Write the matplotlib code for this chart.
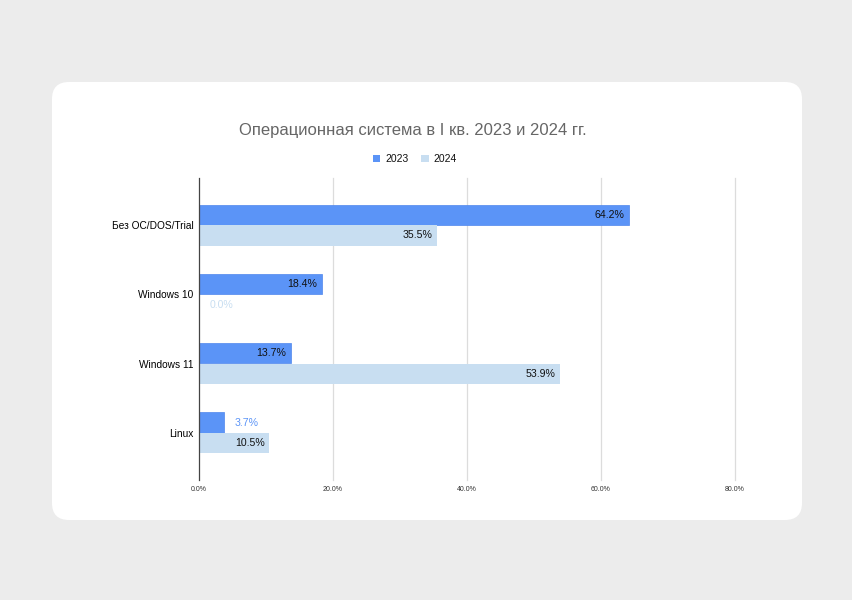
import matplotlib.pyplot as plt
import numpy as np
from matplotlib.patches import FancyBboxPatch, Patch

# --------------------------  Data  -------------------------------------------

CATEGORIES = ["Без ОС/DOS/Trial", "Windows 10", "Windows 11", "Linux"]
SERIES_NAMES = ["2023", "2024"]
VALUES_2023 = [64.2, 18.4, 13.7, 3.7]
VALUES_2024 = [35.5, 0.0, 53.9, 10.5]
X_TICKS = [0, 20, 40, 60, 80]
TITLE = "Операционная система в I кв. 2023 и 2024 гг."

COLOR_2023 = "#5b94f7"
COLOR_2024 = "#c8def1"

plt.rcParams["font.family"] = ["Liberation Sans", "DejaVu Sans"]

# --------------------------  Figure  -----------------------------------------

fig = plt.figure(figsize=(8.53, 6.0), dpi=100)
fig.patch.set_facecolor("#ececec")

card = FancyBboxPatch(
    (52 / 853, 1 - 520 / 600), 750 / 853, 438 / 600,
    boxstyle="round,pad=0,rounding_size=0.02",
    transform=fig.transFigure, facecolor="white", edgecolor="none",
    mutation_aspect=853 / 600, zorder=-10,
)
fig.patches.append(card)

ax = fig.add_axes([199 / 853, 1 - 480 / 600, 536 / 853, 302 / 600])
ax.set_facecolor("none")

y = np.arange(len(CATEGORIES))
h = 0.29
bars_a = ax.barh(y - h / 2 - 0.005, VALUES_2023, height=h, color=COLOR_2023,
                 edgecolor="#4f86ec", linewidth=0.5, zorder=3)
bars_b = ax.barh(y + h / 2 + 0.005, VALUES_2024, height=h, color=COLOR_2024,
                 edgecolor="none", zorder=3)

ax.set_xlim(0, 80)
ax.set_ylim(len(CATEGORIES) - 1 + 0.68, -0.68)
ax.set_xticks(X_TICKS)
ax.set_xticklabels([f"{t:.1f}%" for t in X_TICKS], fontsize=5, color="#333333")
ax.set_yticks(y)
ax.set_yticklabels(CATEGORIES, fontsize=7.3, color="#000000")
ax.tick_params(axis="both", length=0)
ax.tick_params(axis="y", pad=4)
ax.tick_params(axis="x", pad=4)

for t in X_TICKS[1:]:
    ax.axvline(t, color="#dcdcdc", linewidth=0.9, zorder=1, clip_on=False)
for s in ["top", "right", "bottom"]:
    ax.spines[s].set_visible(False)
ax.spines["left"].set_color("#444444")
ax.spines["left"].set_linewidth(0.9)
ax.spines["left"].set_zorder(4)


def label_bars(bars, values, color):
    for bar, v in zip(bars, values):
        yc = bar.get_y() + bar.get_height() / 2
        if v < 8:
            ax.annotate(f"{v:.1f}%", (v, yc), xytext=(8, 0),
                        textcoords="offset points", ha="left", va="center",
                        fontsize=7.6, color=color, zorder=5)
        else:
            ax.annotate(f"{v:.1f}%", (v, yc), xytext=(-3.5, 0),
                        textcoords="offset points", ha="right", va="center",
                        fontsize=7.6, color="#111111", zorder=5)


label_bars(bars_a, VALUES_2023, COLOR_2023)
label_bars(bars_b, VALUES_2024, COLOR_2024)

fig.text(413 / 853, 1 - 131 / 600, TITLE, ha="center", va="center",
         fontsize=12, color="#666666")

handles = [Patch(facecolor=COLOR_2023, edgecolor="none"),
           Patch(facecolor=COLOR_2024, edgecolor="none")]
fig.legend(handles, SERIES_NAMES, loc="center", bbox_to_anchor=(415 / 853, 1 - 159 / 600),
           ncol=2, frameon=False, fontsize=7.5, handlelength=0.7, handleheight=0.7,
           handletextpad=0.5, columnspacing=1.2, labelcolor="#111111")

fig.savefig("out.png", dpi=100, facecolor=fig.get_facecolor())
